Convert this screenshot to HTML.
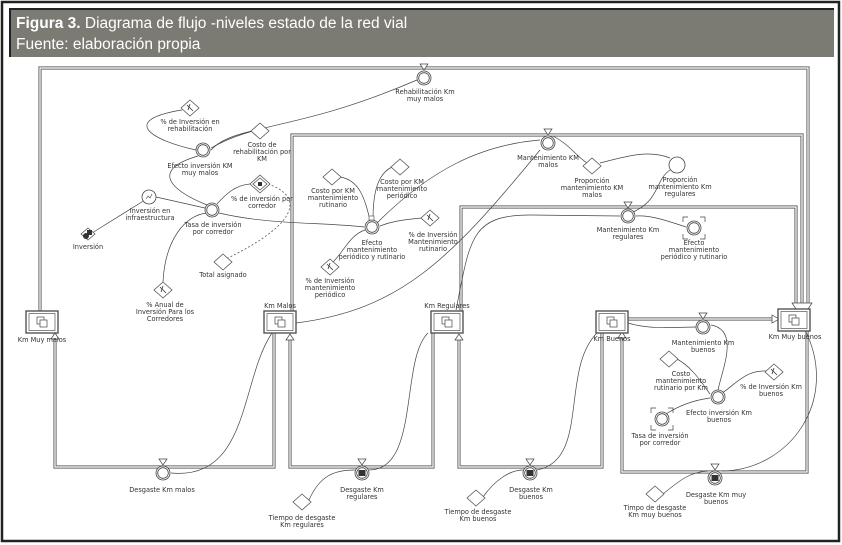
<!DOCTYPE html>
<html><head><meta charset="utf-8"><style>
html,body{margin:0;padding:0;background:#fff;}
svg{display:block;}
text{font-family:"DejaVu Sans","Liberation Sans",sans-serif;font-size:6.6px;fill:#333;text-anchor:middle;}
.h{font-family:"Liberation Sans",sans-serif;font-size:15.5px;fill:#fff;text-anchor:start;}
.d{fill:none;stroke:#666;stroke-width:3.2;}
.w{fill:none;stroke:#fff;stroke-width:1.2;}
.c{fill:none;stroke:#444;stroke-width:0.7;}
.dash{fill:none;stroke:#444;stroke-width:0.7;stroke-dasharray:2,2;}
.dm{fill:#fff;stroke:#555;stroke-width:0.8;}
</style></head><body>
<svg width="842" height="545" viewBox="0 0 842 545" xmlns="http://www.w3.org/2000/svg">
<defs>
<g id="valve"><circle r="7" fill="#fff" stroke="#444" stroke-width="0.8"/><circle r="5.3" fill="none" stroke="#444" stroke-width="0.8"/><path d="M-4,-14 L4,-14 L0,-8 Z" fill="#fff" stroke="#444" stroke-width="0.7"/></g>
<g id="valveg"><circle r="7" fill="#fff" stroke="#444" stroke-width="0.8"/><circle r="5.3" fill="none" stroke="#444" stroke-width="0.8"/><rect x="-3.5" y="-3" width="7" height="6" fill="#333"/><path d="M-4,-14 L4,-14 L0,-8 Z" fill="#fff" stroke="#444" stroke-width="0.7"/></g>
<g id="aux"><circle r="7" fill="#fff" stroke="#444" stroke-width="0.8"/><circle r="5.3" fill="none" stroke="#444" stroke-width="0.8"/></g>
<g id="dia"><path d="M0,-8 L9,0 L0,8 L-9,0 Z" class="dm"/></g>
<g id="diax"><path d="M0,-8 L9,0 L0,8 L-9,0 Z" class="dm"/><path d="M-3,-3 L3,3 M0,-4 L-2,2" stroke="#333" stroke-width="0.8"/></g>
<g id="box"><rect x="-16" y="-11" width="32" height="22" fill="#fff" stroke="#555" stroke-width="1.4"/><rect x="-13" y="-8.5" width="26" height="17" fill="none" stroke="#555" stroke-width="0.7"/><rect x="-5" y="-5" width="7" height="7" fill="#fff" stroke="#444" stroke-width="0.7"/><rect x="-2" y="-2" width="7" height="7" fill="#fff" stroke="#444" stroke-width="0.7"/></g>
</defs>
<rect x="2" y="2" width="837" height="539" fill="#fff" stroke="#222" stroke-width="2.5"/>
<rect x="10" y="9" width="824" height="48" fill="#7b7b73"/>
<path d="M10,57 L10,9 L834,9" fill="none" stroke="#222" stroke-width="2"/>
<text class="h" x="16" y="28"><tspan font-weight="bold">Figura 3.</tspan> Diagrama de flujo -niveles estado de la red vial</text>
<text class="h" x="16" y="49">Fuente: elaboración propia</text>

<!-- stock loops -->
<g>
<path class="d" d="M40,311 L40,68 L808,68 L808,306"/><path class="w" d="M40,311 L40,68 L808,68 L808,306"/>
<path class="d" d="M292,312 L292,135 L802,135 L802,306"/><path class="w" d="M292,312 L292,135 L802,135 L802,306"/>
<path class="d" d="M461,311 L461,207 L796,207 L796,306"/><path class="w" d="M461,311 L461,207 L796,207 L796,306"/>
<path class="d" d="M628,319 L774,319"/><path class="w" d="M628,319 L774,319"/>
<path d="M772,315 L779,319 L772,323 Z" fill="#fff" stroke="#444" stroke-width="0.7"/>
<path d="M792,303 L812,303 L808,309 L796,309 Z" fill="#fff" stroke="#444" stroke-width="0.7"/>
<path class="d" d="M274,333 L274,467 L55,467 L55,334"/><path class="w" d="M274,333 L274,467 L55,467 L55,334"/>
<path class="d" d="M433,333 L433,467 L290,467 L290,338"/><path class="w" d="M433,333 L433,467 L290,467 L290,338"/>
<path class="d" d="M602,333 L602,467 L459,467 L459,338"/><path class="w" d="M602,333 L602,467 L459,467 L459,338"/>
<path class="d" d="M807,331 L807,472 L622,472 L622,336"/><path class="w" d="M807,331 L807,472 L622,472 L622,336"/>
<path d="M286,340 L290,334 L294,340 Z M455,340 L459,334 L463,340 Z M618,338 L622,332 L626,338 Z M51,339 L55,333 L59,339 Z" fill="#fff" stroke="#444" stroke-width="0.7"/>
</g>

<!-- connectors -->
<g>
<path class="c" d="M211,148 C260,120 300,130 417,80"/>
<path class="c" d="M182,110 C120,120 150,140 196,150"/>
<path class="c" d="M252,131 C235,135 220,140 211,150"/>
<path class="c" d="M198,156 C150,170 170,190 207,205"/>
<path class="c" d="M92,233 L145,200"/>
<path class="c" d="M156,197 L205,208"/>
<path class="c" d="M250,184 C235,185 225,195 217,204"/>
<path class="c" d="M163,282 C165,240 185,215 207,213"/>
<path class="c" d="M219,213 C270,225 320,222 364,227"/>
<path class="dash" d="M268,184 C300,195 305,220 228,258"/>
<path class="c" d="M340,177 C360,180 365,200 370,220"/>
<path class="c" d="M392,167 C375,175 373,200 373,220"/>
<path class="c" d="M422,218 C400,220 390,222 380,226"/>
<path class="c" d="M333,262 C345,250 350,235 365,230"/>
<path class="c" d="M377,223 C430,170 480,145 540,140"/>
<path class="c" d="M296,323 C400,310 450,260 540,150"/>
<path class="c" d="M553,136 C570,145 575,155 587,163"/>
<path class="c" d="M600,163 C630,155 650,150 670,158"/>
<path class="c" d="M670,170 C655,180 660,200 633,212"/>
<path class="c" d="M456,310 C470,240 470,215 530,215 L620,216"/>
<path class="c" d="M686,227 C665,220 650,215 636,216"/>
<path class="c" d="M628,323 C650,330 680,327 696,327"/>
<path class="c" d="M711,325 C740,330 722,370 718,390"/>
<path class="c" d="M675,358 C690,365 700,380 710,394"/>
<path class="c" d="M766,371 C745,370 735,385 722,393"/>
<path class="c" d="M666,414 C680,405 695,400 710,398"/>
<path class="c" d="M272,333 C240,380 250,480 171,473"/>
<path class="c" d="M428,333 C400,360 420,470 369,470"/>
<path class="c" d="M309,500 C320,475 335,470 355,470"/>
<path class="c" d="M597,333 C560,370 590,460 537,470"/>
<path class="c" d="M483,497 C495,480 510,470 523,470"/>
<path class="c" d="M805,330 C840,400 790,470 722,471"/>
<path class="c" d="M663,494 C680,480 690,472 708,471"/>
</g>

<!-- nodes -->
<use href="#valve" x="424" y="78"/><text x="425" y="94">Rehabilitación Km</text><text x="425" y="101">muy malos</text>
<use href="#diax" x="190" y="108"/><text x="190" y="124">% de Inversión en</text><text x="190" y="131">rehabilitación</text>
<use href="#dia" x="260" y="131"/><text x="262" y="147">Costo de</text><text x="262" y="154">rehabilitación por</text><text x="262" y="161">KM</text>
<use href="#aux" x="203" y="150"/><text x="200" y="168">Efecto inversión KM</text><text x="200" y="175">muy malos</text>
<g transform="translate(260,184)"><path d="M0,-9 L10,0 L0,9 L-10,0 Z" class="dm"/><path d="M0,-6 L7,0 L0,6 L-7,0 Z" class="dm"/><rect x="-2" y="-2" width="4" height="4" fill="#333"/></g>
<text x="262" y="201">% de inversión por</text><text x="262" y="208">corredor</text>
<g transform="translate(149,197)"><circle r="7" fill="#fff" stroke="#444" stroke-width="0.8"/><path d="M-3,2 L-1,-1 L1,1 L3,-3" fill="none" stroke="#444" stroke-width="0.6"/></g>
<text x="150" y="213">Inversión en</text><text x="150" y="220">infraestructura</text>
<use href="#aux" x="212" y="210"/><text x="213" y="227">Tasa de inversión</text><text x="213" y="234">por corredor</text>
<g transform="translate(88,234)"><path d="M0,-6 L7,0 L0,6 L-7,0 Z" class="dm"/><circle cx="-2" cy="2" r="3" fill="#333"/><rect x="-1" y="-4" width="5" height="5" fill="#333"/></g><text x="88" y="249">Inversión</text>
<use href="#dia" x="223" y="262"/><text x="223" y="277">Total asignado</text>
<use href="#diax" x="163" y="290"/><text x="165" y="307">% Anual de</text><text x="165" y="314">Inversión Para los</text><text x="165" y="321">Corredores</text>
<use href="#dia" x="332" y="177"/><text x="333" y="193">Costo por KM</text><text x="333" y="200">mantenimiento</text><text x="333" y="207">rutinario</text>
<use href="#dia" x="400" y="167"/><text x="402" y="184">Costo por KM</text><text x="402" y="191">mantenimiento</text><text x="402" y="198">periódico</text>
<use href="#aux" x="372" y="227"/><rect x="369" y="216" width="5" height="4" fill="#fff" stroke="#444" stroke-width="0.6"/><text x="372" y="245">Efecto</text><text x="372" y="252">mantenimiento</text><text x="372" y="259">periódico y rutinario</text>
<use href="#diax" x="430" y="218"/><text x="433" y="237">% de Inversión</text><text x="433" y="244">Mantenimiento</text><text x="433" y="251">rutinario</text>
<use href="#diax" x="330" y="267"/><text x="330" y="283">% de Inversión</text><text x="330" y="290">mantenimiento</text><text x="330" y="297">periódico</text>
<use href="#valve" x="548" y="143"/><text x="548" y="160">Mantenimiento KM</text><text x="548" y="167">malos</text>
<use href="#dia" x="592" y="166"/><text x="592" y="183">Proporción</text><text x="592" y="190">mantenimiento KM</text><text x="592" y="197">malos</text>
<circle cx="677" cy="165" r="8" fill="#fff" stroke="#444" stroke-width="0.8"/><text x="680" y="182">Proporción</text><text x="680" y="189">mantenimiento Km</text><text x="680" y="196">regulares</text>
<use href="#valve" x="628" y="216"/><text x="628" y="232">Mantenimiento Km</text><text x="628" y="239">regulares</text>
<g transform="translate(694,228)"><use href="#aux"/><path d="M-11,-6 L-11,-11 L-6,-11 M6,-11 L11,-11 L11,-6 M-11,6 L-11,11 L-6,11 M6,11 L11,11 L11,6" fill="none" stroke="#444" stroke-width="0.7"/></g>
<text x="694" y="245">Efecto</text><text x="694" y="252">mantenimiento</text><text x="694" y="259">periódico y rutinario</text>
<use href="#box" x="42" y="322"/><text x="42" y="342">Km Muy malos</text>
<use href="#box" x="280" y="322"/><text x="280" y="308">Km Malos</text>
<use href="#box" x="447" y="322"/><text x="447" y="308">Km Regulares</text>
<use href="#box" x="612" y="322"/><text x="612" y="341">Km Buenos</text>
<use href="#box" x="794" y="320"/><text x="795" y="339">Km Muy buenos</text>
<use href="#valve" x="703" y="327"/><text x="703" y="345">Mantenimiento Km</text><text x="703" y="352">buenos</text>
<use href="#dia" x="669" y="359"/><text x="681" y="376">Costo</text><text x="681" y="383">mantenimiento</text><text x="681" y="390">rutinario por Km</text>
<use href="#diax" x="774" y="372"/><text x="771" y="389">% de Inversión Km</text><text x="771" y="396">buenos</text>
<use href="#aux" x="718" y="397"/><text x="719" y="415">Efecto inversión Km</text><text x="719" y="422">buenos</text>
<g transform="translate(662,419)"><use href="#aux"/><path d="M-11,-6 L-11,-11 L-6,-11 M6,-11 L11,-11 L11,-6 M-11,6 L-11,11 L-6,11 M6,11 L11,11 L11,6" fill="none" stroke="#444" stroke-width="0.7"/></g>
<text x="660" y="438">Tasa de inversión</text><text x="660" y="445">por corredor</text>
<use href="#valve" x="163" y="473"/><text x="162" y="492">Desgaste Km malos</text>
<use href="#valveg" x="362" y="473"/><text x="362" y="492">Desgaste Km</text><text x="362" y="499">regulares</text>
<use href="#dia" x="302" y="502"/><text x="302" y="520">Tiempo de desgaste</text><text x="302" y="527">Km regulares</text>
<use href="#valveg" x="530" y="473"/><text x="531" y="492">Desgaste Km</text><text x="531" y="499">buenos</text>
<use href="#dia" x="476" y="498"/><text x="478" y="514">Tiempo de desgaste</text><text x="478" y="521">Km buenos</text>
<use href="#valveg" x="715" y="478"/><text x="716" y="497">Desgaste Km muy</text><text x="716" y="504">buenos</text>
<use href="#dia" x="655" y="494"/><text x="655" y="510">Timpo de desgaste</text><text x="655" y="517">Km muy buenos</text>
</svg>
</body></html>
